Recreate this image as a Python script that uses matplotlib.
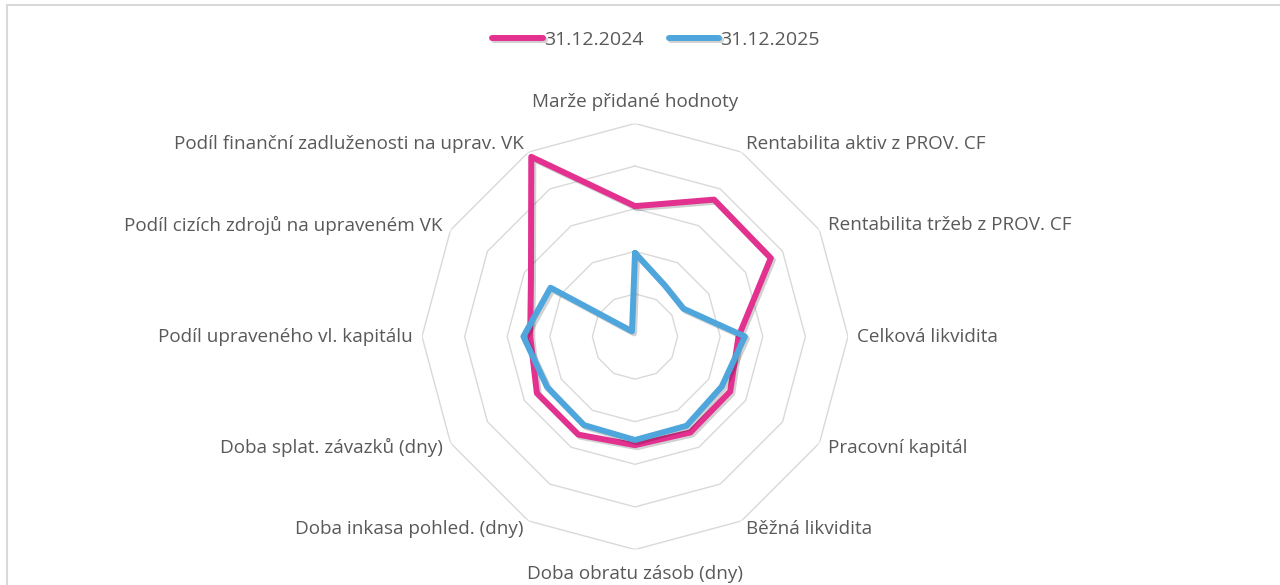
import numpy as np
import matplotlib
matplotlib.use('Agg')
import matplotlib.pyplot as plt
import matplotlib.patheffects as pe
from matplotlib.patches import Rectangle

# Ukazatele (po směru hodinových ručiček od vrcholu)
categories = [
    'Marže přidané hodnoty',
    'Rentabilita aktiv z PROV. CF',
    'Rentabilita tržeb z PROV. CF',
    'Celková likvidita',
    'Pracovní kapitál',
    'Běžná likvidita',
    'Doba obratu zásob (dny)',
    'Doba inkasa pohled. (dny)',
    'Doba splat. závazků (dny)',
    'Podíl upraveného vl. kapitálu',
    'Podíl cizích zdrojů na upraveném VK',
    'Podíl finanční zadluženosti na uprav. VK',
]
series_names = ['31.12.2024', '31.12.2025']
vals_2024 = [3.06, 3.71, 3.68, 2.43, 2.58, 2.60, 2.55, 2.66, 2.66, 2.46, 2.82, 4.87]
vals_2025 = [1.96, 1.39, 1.31, 2.58, 2.35, 2.42, 2.43, 2.40, 2.38, 2.62, 2.29, 0.14]
ring_levels = [1, 2, 3, 4, 5]

plt.rcParams['font.family'] = ['Open Sans', 'DejaVu Sans']

W, H = 1280, 585
fig = plt.figure(figsize=(W / 100, H / 100), dpi=100)

# rámeček grafu (oříznutý vpravo a dole)
fig.add_artist(Rectangle((6.5 / W, -0.2), 1.2, 1.2 - 5 / H, transform=fig.transFigure,
                         fill=False, edgecolor='#d9d9d9', lw=1.5))

cx, cy, R = 635, 336.5, 213
ax = fig.add_axes([(cx - R) / W, (H - cy - R) / H, 2 * R / W, 2 * R / H], projection='polar')
ax.set_theta_zero_location('N')
ax.set_theta_direction(-1)
ax.set_ylim(0, ring_levels[-1])
ax.grid(False)
ax.spines['polar'].set_visible(False)
ax.set_xticks([])
ax.set_yticks([])
ax.patch.set_alpha(0)

n = len(categories)
theta = np.arange(n) * 2 * np.pi / n
theta_c = np.append(theta, theta[0])

for lvl in ring_levels:
    ax.plot(theta_c, [lvl] * (n + 1), color='#d9d9d9', lw=1.0, zorder=1)

colors = ['#e3318f', '#4ea6dc']
shadow = [pe.SimpleLineShadow(offset=(1.5, -1.5), shadow_color='black', alpha=0.18), pe.Normal()]
for name, vals, c in zip(series_names, [vals_2024, vals_2025], colors):
    v = np.append(vals, vals[0])
    ax.plot(theta_c, v, color=c, lw=4.3, solid_joinstyle='round', solid_capstyle='round',
            label=name, zorder=3, path_effects=shadow)

# popisky os
for t, lab in zip(theta, categories):
    deg = np.degrees(t) % 360
    r_lab = 5.22
    if np.isclose(deg, 0):
        ha, va, r_lab = 'center', 'bottom', 5.29
    elif np.isclose(deg, 180):
        ha, va, r_lab = 'center', 'top', 5.36
    elif deg < 180:
        ha, va = 'left', 'center'
    else:
        ha, va = 'right', 'center'
    ax.text(t, r_lab, lab, ha=ha, va=va, fontsize=13.6, color='#595959', clip_on=False)

leg = fig.legend(loc='center', bbox_to_anchor=(656 / W, 1 - 40 / H), ncol=2, frameon=False,
                 fontsize=14, handlelength=2.6, handletextpad=0.05, columnspacing=1.3,
                 labelcolor='#595959')

fig.savefig('out.png', dpi=100)
